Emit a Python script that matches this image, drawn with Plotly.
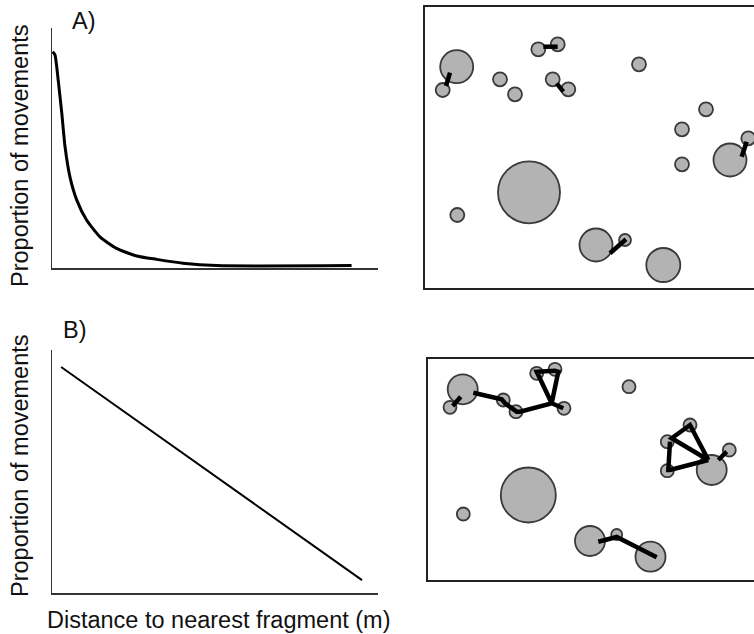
import plotly.graph_objects as go

# ---------------- data ----------------
# Panel A: exponential-like decline (distance vs proportion of movements)
dist_a = [0.2, 0.9, 1.9, 3.0, 4.0, 5.5, 7.6, 10.6, 14.7, 19.8, 26.0, 32.1, 40.2, 50.5, 91.9]
prop_a = [0.901, 0.888, 0.783, 0.645, 0.505, 0.380, 0.283, 0.200, 0.130, 0.082, 0.050, 0.036, 0.020, 0.010, 0.010]

# Panel B: linear decline
dist_b = [2.8, 95.1]
prop_b = [0.930, 0.053]

# Map A: fragments (x, y, diameter) and movements
fragA_x = [456.7, 442.7, 538.3, 557.7, 500.0, 515.0, 552.7, 568.3, 639.0, 706.0, 682.0, 682.0, 730.0, 748.3, 529.0, 457.3, 596.0, 625.0, 663.3]
fragA_y = [66.7, 90.0, 49.3, 44.3, 79.3, 94.3, 79.3, 89.3, 64.3, 109.3, 129.3, 164.3, 160.0, 138.3, 192.3, 215.0, 245.0, 240.0, 265.0]
fragA_d = [33, 14, 14, 14, 14, 14, 14, 14, 14, 14, 14, 14, 33, 14, 62, 14, 33, 12, 34]

movesA = [
    ([450.0, 446.0], [72.7, 86.0]),
    ([543.3, 557.7], [46.7, 46.7]),
    ([556.7, 563.3], [83.3, 91.7]),
    ([746.7, 741.7], [141.7, 156.7]),
    ([610.0, 626.0], [253.3, 239.3]),
]

# Map B: fragments and movements
fragB_x = [462.7, 450.0, 503.3, 516.0, 536.7, 555.0, 564.0, 629.0, 690.0, 667.3, 667.3, 711.7, 729.3, 528.3, 463.3, 590.0, 616.7, 650.5]
fragB_y = [389.3, 407.3, 400.0, 411.7, 373.3, 369.3, 408.3, 386.7, 425.0, 441.7, 470.7, 470.0, 450.0, 495.0, 514.0, 541.0, 534.5, 556.7]
fragB_d = [30, 13, 13, 13, 13, 13, 13, 13, 13, 13, 13, 30, 13, 55, 13, 30, 11, 30]

movesB = [
    ([452.7, 460.7], [406.0, 396.7]),
    ([473.3, 501.7, 505.0, 516.7, 520.0, 551.7, 563.3], [392.7, 399.3, 403.3, 411.7, 411.7, 403.3, 408.3]),
    ([551.7, 538.3, 536.7, 555.0, 558.3, 551.7], [403.3, 375.0, 371.7, 370.7, 371.7, 403.3]),
    ([708.3, 690.0, 671.7, 708.3], [460.0, 425.0, 438.3, 460.0]),
    ([670.0, 668.3, 670.0, 708.3], [441.7, 470.0, 470.0, 460.0]),
    ([726.7, 718.3], [451.7, 460.0]),
    ([598.3, 616.7, 656.7], [541.7, 537.0, 557.3]),
]

y_title = "Proportion of movements"
x_title = "Distance to nearest fragment (m)"
panel_labels = ["A)", "B)"]

# ---------------- figure ----------------
W, H = 754, 634
FONT = "Arial, Liberation Sans, sans-serif"
fig = go.Figure()

fig.add_trace(go.Scatter(x=dist_a, y=prop_a, mode="lines", line=dict(color="black", width=3, shape="spline", smoothing=0.6),
                         xaxis="x", yaxis="y", hoverinfo="skip"))
fig.add_trace(go.Scatter(x=dist_b, y=prop_b, mode="lines", line=dict(color="black", width=2),
                         xaxis="x2", yaxis="y2", hoverinfo="skip"))

marker_common = dict(color="#b3b3b3", opacity=1, line=dict(color="#3a3a3a", width=1.8))
fig.add_trace(go.Scatter(x=fragA_x, y=fragA_y, mode="markers", marker=dict(size=fragA_d, **marker_common),
                         xaxis="x3", yaxis="y3", hoverinfo="skip"))
for mx, my in movesA:
    fig.add_trace(go.Scatter(x=mx, y=my, mode="lines", line=dict(color="black", width=4.5),
                             xaxis="x3", yaxis="y3", hoverinfo="skip"))
fig.add_trace(go.Scatter(x=fragB_x, y=fragB_y, mode="markers", marker=dict(size=fragB_d, **marker_common),
                         xaxis="x4", yaxis="y4", hoverinfo="skip"))
for mx, my in movesB:
    fig.add_trace(go.Scatter(x=mx, y=my, mode="lines", line=dict(color="black", width=4.5),
                             xaxis="x4", yaxis="y4", hoverinfo="skip"))

def px_x(p):
    return p / W

def px_y(p):
    return 1 - p / H

ax_common = dict(showgrid=False, zeroline=False, showticklabels=False, ticks="", fixedrange=True)
line_left = dict(showline=True, linecolor="#333333", linewidth=1.5)
line_map = dict(showline=True, linecolor="#222222", linewidth=2)

fig.update_layout(
    width=W, height=H,
    margin=dict(l=0, r=0, t=0, b=0),
    paper_bgcolor="white", plot_bgcolor="white",
    showlegend=False,
    xaxis=dict(domain=[px_x(52), px_x(378)], range=[0, 100], anchor="y", **ax_common, **line_left),
    yaxis=dict(domain=[px_y(268), px_y(28)], range=[0, 1], anchor="x", **ax_common, **line_left),
    xaxis2=dict(domain=[px_x(52), px_x(378)], range=[0, 100], anchor="y2", **ax_common, **line_left),
    yaxis2=dict(domain=[px_y(593), px_y(350)], range=[0, 1], anchor="x2", **ax_common, **line_left),
    xaxis3=dict(domain=[px_x(425), 1], range=[425, 754], anchor="y3", mirror=True, **ax_common, **line_map),
    yaxis3=dict(domain=[px_y(288), px_y(7)], range=[288, 7], anchor="x3", **ax_common, **line_map),
    xaxis4=dict(domain=[px_x(428), 1], range=[428, 754], anchor="y4", mirror=True, **ax_common, **line_map),
    yaxis4=dict(domain=[px_y(580), px_y(359)], range=[580, 359], anchor="x4", **ax_common, **line_map),
)

ann_font = dict(family=FONT, size=23.5, color="#111111")
annotations = [
    dict(text=y_title, x=px_x(20), y=px_y(156), textangle=-90),
    dict(text=y_title, x=px_x(20), y=px_y(466), textangle=-90),
    dict(text=x_title, x=px_x(219), y=px_y(620)),
    dict(text=panel_labels[0], x=px_x(84), y=px_y(21)),
    dict(text=panel_labels[1], x=px_x(75), y=px_y(330)),
]
for a in annotations:
    fig.add_annotation(xref="paper", yref="paper", showarrow=False, xanchor="center", yanchor="middle",
                       font=ann_font, **a)

fig.write_html(
    "out.html",
    config={"displayModeBar": False, "staticPlot": True},
    post_script="document.body.style.margin='0px';document.body.style.overflow='hidden';",
)
